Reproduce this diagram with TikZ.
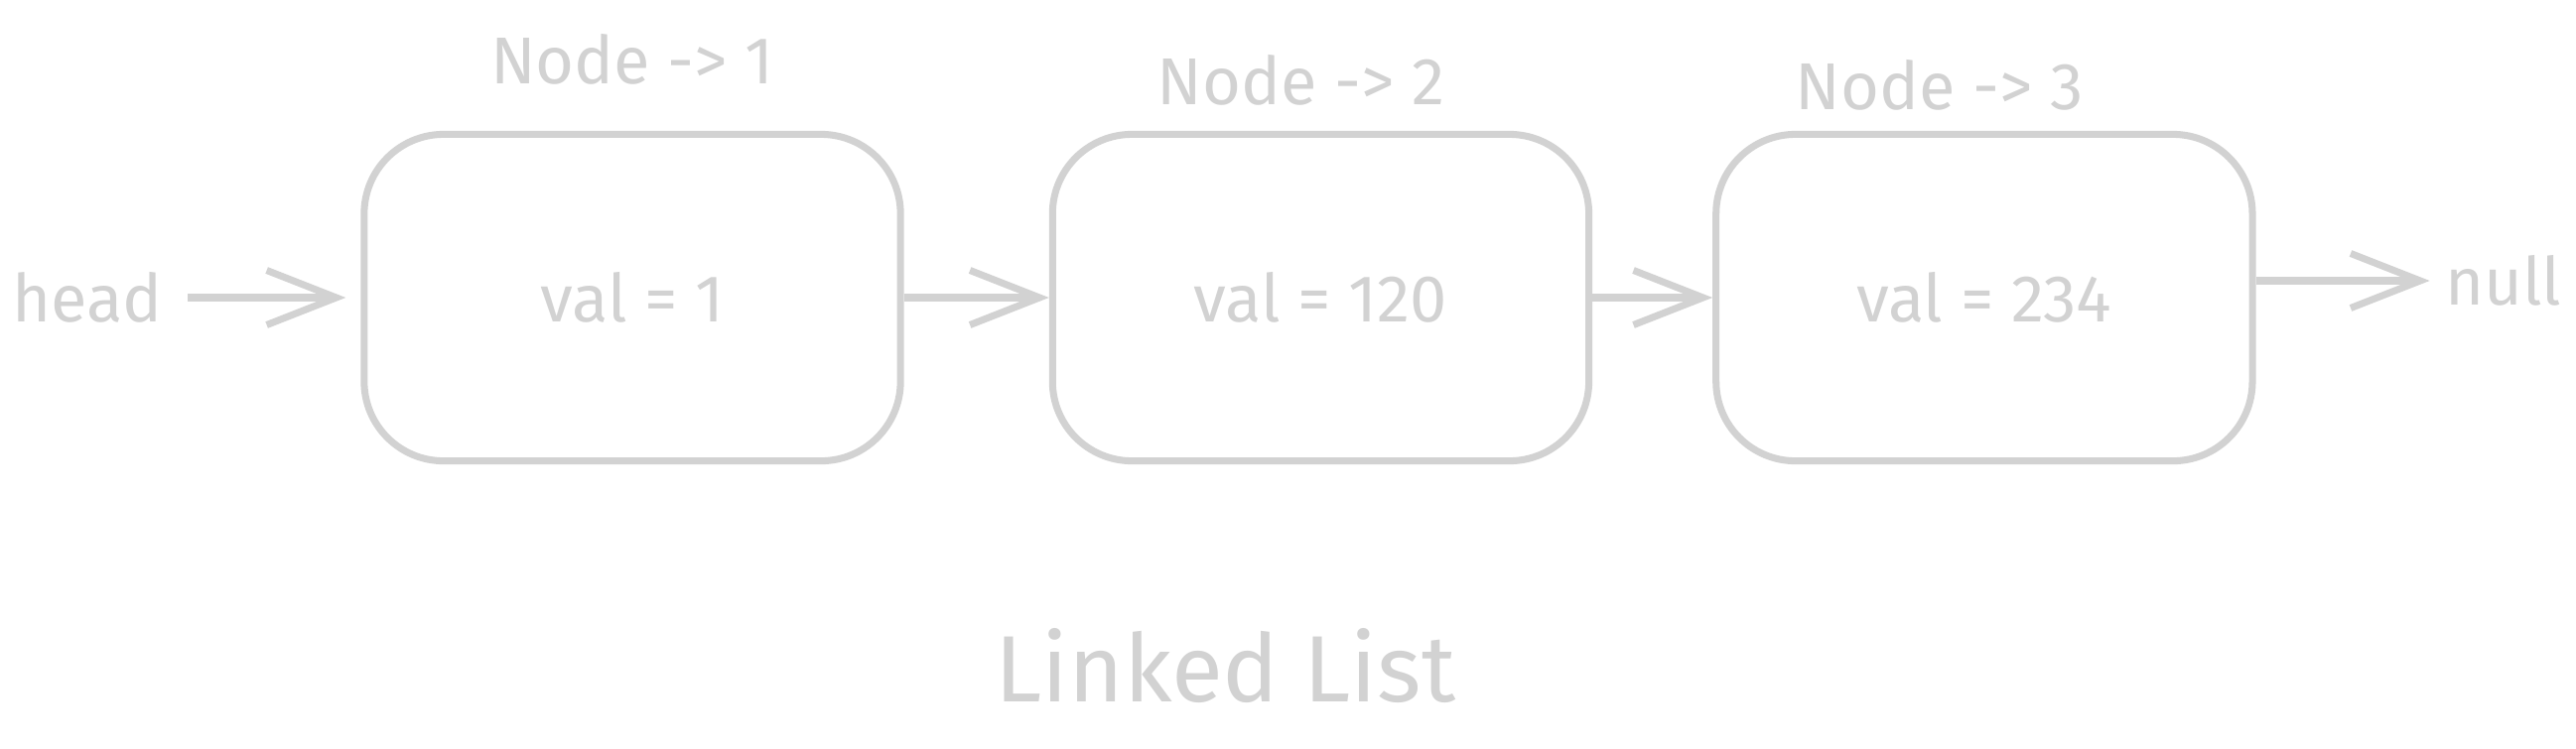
\documentclass[tikz,border=0pt]{standalone}
\usepackage{fontspec}
\setmainfont{Fira Sans}
\usepackage{xcolor}
\usepackage{tikz}
\usetikzlibrary{arrows.meta, positioning}
\definecolor{sketch}{RGB}{210,210,210}

\begin{document}
\begin{tikzpicture}[
    x=0.01cm,
    y=-0.01cm,
    node distance=1.4cm,
    item/.style={
        rectangle,
        draw=sketch,
        line width=2pt,
        rounded corners=0.8cm,
        minimum width=5.4cm,
        minimum height=3.29cm,
        text=sketch,
        font=\fontsize{19}{22}\selectfont
    },
    tag/.style={
        text=sketch,
        inner sep=0pt,
        font=\fontsize{19}{22}\selectfont
    },
    link/.style={
        -{Straight Barb[length=0.7cm, width=0.55cm, line width=2pt]},
        line width=2pt,
        color=sketch
    }
]
\useasboundingbox (0,0) rectangle (2595,754);

% list items
\node[item] (item1) at (637,300) {val = 1};
\node[item, right=1.46cm of item1] (item2) {val = 120};
\node[item, right=1.21cm of item2] (item3) {val = 234};

% labels over the items
\node[tag, above=0.46cm of item1] (lab1) {Node -> 1};
\node[tag, above=0.25cm of item2, xshift=-0.2cm] (lab2) {Node -> 2};
\node[tag, above=0.2cm of item3, xshift=-0.45cm] (lab3) {Node -> 3};

% ends of the list
\node[tag, left=1.99cm of item1] (head) {head};
\node[tag, right=1.9cm of item3, yshift=0.17cm] (null) {null};

% links
\draw[link, shorten <=0.25cm, shorten >=0.15cm] (head) -- (item1);
\draw[link] (item1) -- (item2);
\draw[link] (item2) -- (item3);
\draw[link, shorten >=0.15cm] (item3.east |- null.west) -- (null.west);

\node[tag, font=\fontsize{27}{30}\selectfont, below=1.65cm of item2, xshift=-0.96cm] (title) {Linked List};

\end{tikzpicture}
\end{document}
